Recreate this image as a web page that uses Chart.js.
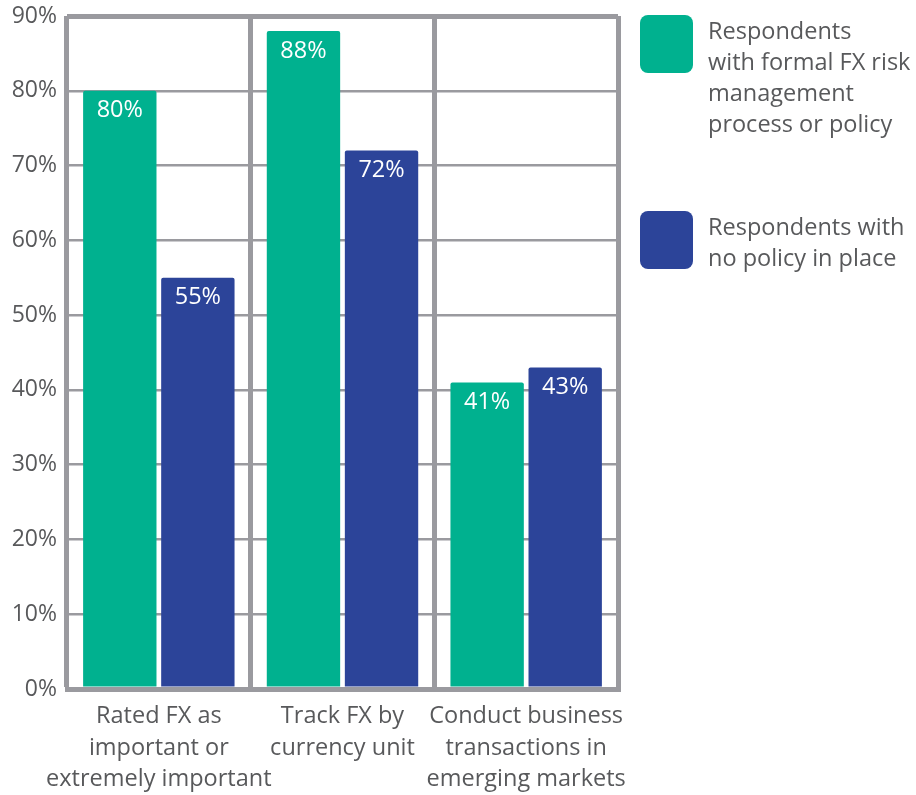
<!DOCTYPE html>
<html>
<head>
<meta charset="utf-8">
<script src="https://cdn.jsdelivr.net/npm/chart.js@4/dist/chart.umd.min.js"></script>
<style>
  html, body { margin: 0; padding: 0; background: #ffffff; }
  #wrap { width: 916px; height: 795px; position: relative; }
</style>
</head>
<body>
<div id="wrap"><canvas id="c" width="916" height="795"></canvas></div>
<script>
// ---- data ----
const categories = [
  ["Rated FX as", "important or", "extremely important"],
  ["Track FX by", "currency unit"],
  ["Conduct business", "transactions in", "emerging markets"]
];
const seriesNames = [
  "Respondents with formal FX risk management process or policy",
  "Respondents with no policy in place"
];
const legendLines = [
  ["Respondents", "with formal FX risk", "management", "process or policy"],
  ["Respondents with", "no policy in place"]
];
const formalPolicy = [80, 88, 41];
const noPolicy = [55, 72, 43];
const formalLabels = ["80%", "88%", "41%"];
const noPolicyLabels = ["55%", "72%", "43%"];
const yTicks = [0, 10, 20, 30, 40, 50, 60, 70, 80, 90];

// ---- styles ----
const GREEN = "#00B18F";
const BLUE = "#2C4499";
const GRID = "#9a9a9f";
const TEXT = "#58595b";
const FONT = "'Open Sans', 'Noto Sans', sans-serif";

const barLabelPlugin = {
  id: "barLabels",
  afterDatasetsDraw(chart) {
    const ctx = chart.ctx;
    const allLabels = [formalLabels, noPolicyLabels];
    ctx.save();
    ctx.fillStyle = "#ffffff";
    ctx.font = "23.5px " + FONT;
    ctx.textAlign = "center";
    ctx.textBaseline = "middle";
    chart.data.datasets.forEach((ds, di) => {
      const meta = chart.getDatasetMeta(di);
      meta.data.forEach((el, i) => {
        ctx.fillText(allLabels[di][i], el.x, el.y + 20);
      });
    });
    ctx.restore();
  }
};

const sideLegendPlugin = {
  id: "sideLegend",
  afterDraw(chart) {
    const ctx = chart.ctx;
    const x0 = chart.chartArea.right + 22;
    const tops = [15, 211];
    ctx.save();
    chart.data.datasets.forEach((ds, di) => {
      const top = tops[di];
      ctx.fillStyle = ds.backgroundColor;
      ctx.beginPath();
      ctx.roundRect(x0, top, 53, 58, 8);
      ctx.fill();
      ctx.fillStyle = TEXT;
      ctx.font = "23.5px " + FONT;
      ctx.textAlign = "left";
      ctx.textBaseline = "middle";
      legendLines[di].forEach((line, li) => {
        ctx.fillText(line, x0 + 68, top + 17 + li * 31);
      });
    });
    ctx.restore();
  }
};

new Chart(document.getElementById("c"), {
  type: "bar",
  data: {
    labels: categories,
    datasets: [
      { label: seriesNames[0], data: formalPolicy, backgroundColor: GREEN, borderRadius: 2, borderSkipped: "bottom" },
      { label: seriesNames[1], data: noPolicy, backgroundColor: BLUE, borderRadius: 2, borderSkipped: "bottom" }
    ]
  },
  options: {
    responsive: false,
    animation: false,
    maintainAspectRatio: false,
    layout: { padding: { top: 16, right: 298, left: 0, bottom: 0 } },
    datasets: { bar: { categoryPercentage: 0.85, barPercentage: 0.94 } },
    plugins: {
      legend: { display: false },
      tooltip: { enabled: false }
    },
    scales: {
      x: {
        offset: true,
        grid: { display: true, offset: true, color: GRID, lineWidth: 5, drawTicks: false },
        border: { display: true, color: GRID, width: 5 },
        ticks: {
          color: TEXT,
          font: { family: FONT, size: 23.5, lineHeight: 1.34 },
          padding: 12,
          maxRotation: 0,
          autoSkip: false
        },
        afterFit(scale) { scale.height = 106; }
      },
      y: {
        min: 0,
        max: 90,
        afterBuildTicks(scale) { scale.ticks = yTicks.map(v => ({ value: v })); },
        grid: {
          color: GRID,
          lineWidth: (c) => (c.index === 0 || c.index === yTicks.length - 1) ? 5 : 2.5,
          drawTicks: false
        },
        border: { display: false },
        ticks: {
          color: TEXT,
          font: { family: FONT, size: 23 },
          padding: 10,
          callback: (v) => v + "%"
        },
        afterFit(scale) { scale.width = 67; scale.paddingTop = 0; scale.paddingBottom = 0; }
      }
    }
  },
  plugins: [barLabelPlugin, sideLegendPlugin]
});
</script>
</body>
</html>
